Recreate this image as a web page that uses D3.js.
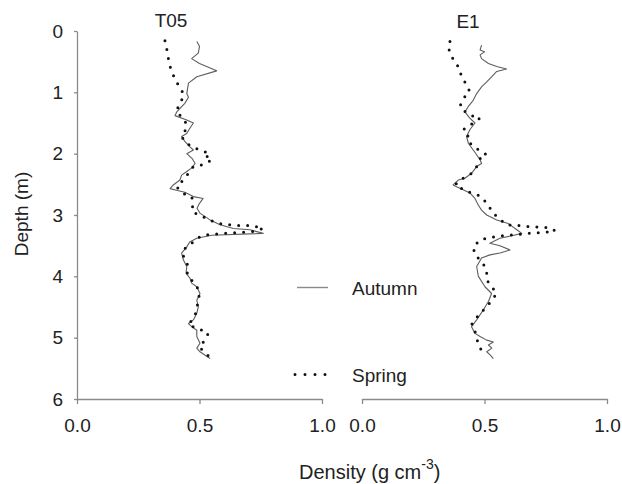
<!DOCTYPE html>
<html>
<head>
<meta charset="utf-8">
<script src="https://cdn.jsdelivr.net/npm/d3@7"></script>
<style>
  body { margin: 0; background: #fff; }
  svg { display: block; font-family: Arial, "Liberation Sans", sans-serif; }
</style>
</head>
<body>
<svg id="chart" width="622" height="484"></svg>
<script>
// ---- data ----
const depthTicks = [0, 1, 2, 3, 4, 5, 6];
const densityTicks = [0.0, 0.5, 1.0];
const panels = ["T05", "E1"];
const seriesNames = ["Autumn", "Spring"];

const t05AutumnDepth = [0.17,0.25,0.36,0.45,0.53,0.65,0.745,0.85,1.02,1.08,1.18,1.32,1.38,1.45,1.50,1.59,1.67,1.72,1.80,1.89,1.94,2.00,2.08,2.16,2.24,2.29,2.35,2.43,2.51,2.57,2.60,2.63,2.70,2.73,2.81,2.89,2.97,3.08,3.16,3.22,3.24,3.30,3.33,3.38,3.44,3.52,3.62,3.73,3.84,3.95,4.03,4.11,4.17,4.28,4.39,4.50,4.60,4.71,4.77,4.82,4.88,4.98,5.09,5.17,5.23,5.34];
const t05AutumnDensity = [0.489,0.50,0.495,0.468,0.50,0.57,0.489,0.455,0.448,0.455,0.44,0.407,0.40,0.448,0.475,0.46,0.448,0.427,0.44,0.461,0.475,0.448,0.47,0.482,0.466,0.448,0.427,0.42,0.393,0.38,0.41,0.44,0.475,0.515,0.50,0.49,0.502,0.543,0.584,0.638,0.706,0.76,0.55,0.489,0.46,0.448,0.427,0.434,0.448,0.445,0.461,0.468,0.489,0.502,0.489,0.495,0.489,0.475,0.455,0.468,0.489,0.489,0.502,0.489,0.502,0.543];

const t05SpringDepth = [0.16,0.26,0.45,0.58,0.72,0.83,0.93,1.02,1.13,1.29,1.34,1.42,1.53,1.64,1.72,1.80,1.89,1.92,1.97,2.00,2.05,2.10,2.18,2.21,2.32,2.43,2.54,2.60,2.66,2.70,2.81,2.92,2.97,3.00,3.11,3.14,3.17,3.17,3.22,3.27,3.29,3.30,3.33,3.38,3.44,3.52,3.62,3.73,3.84,3.95,4.05,4.17,4.28,4.39,4.50,4.60,4.71,4.79,4.85,4.88,4.93,5.05,5.16,5.26,5.34];
const t05SpringDensity = [0.359,0.365,0.373,0.38,0.393,0.407,0.42,0.435,0.427,0.407,0.41,0.434,0.448,0.44,0.427,0.44,0.468,0.489,0.522,0.543,0.53,0.55,0.515,0.475,0.455,0.434,0.407,0.42,0.44,0.468,0.475,0.468,0.482,0.50,0.557,0.584,0.64,0.71,0.76,0.72,0.64,0.60,0.515,0.49,0.475,0.445,0.43,0.44,0.455,0.45,0.465,0.49,0.50,0.495,0.49,0.485,0.47,0.455,0.49,0.51,0.536,0.52,0.50,0.53,0.543];

const e1AutumnDepth = [0.23,0.31,0.34,0.39,0.45,0.53,0.58,0.62,0.66,0.745,0.83,0.91,1.02,1.13,1.23,1.32,1.42,1.50,1.61,1.72,1.83,1.94,2.10,2.16,2.21,2.32,2.40,2.43,2.51,2.54,2.59,2.64,2.73,2.84,2.92,3.00,3.08,3.14,3.24,3.30,3.33,3.38,3.46,3.50,3.57,3.62,3.65,3.70,3.84,4.00,4.17,4.28,4.41,4.55,4.71,4.82,4.93,4.98,5.04,5.07,5.12,5.17,5.23,5.28,5.34];
const e1AutumnDensity = [0.488,0.482,0.50,0.482,0.488,0.516,0.55,0.59,0.55,0.53,0.509,0.488,0.468,0.454,0.434,0.42,0.44,0.461,0.44,0.427,0.434,0.454,0.482,0.488,0.468,0.447,0.42,0.393,0.372,0.386,0.413,0.44,0.461,0.475,0.488,0.509,0.55,0.597,0.632,0.652,0.62,0.563,0.522,0.563,0.604,0.563,0.522,0.488,0.468,0.475,0.502,0.529,0.516,0.495,0.468,0.447,0.461,0.482,0.509,0.536,0.516,0.53,0.509,0.523,0.536];

const e1SpringDepth = [0.17,0.28,0.39,0.47,0.58,0.745,0.88,0.99,1.07,1.15,1.23,1.29,1.37,1.42,1.50,1.61,1.72,1.80,1.88,1.97,2.02,2.08,2.20,2.32,2.43,2.51,2.60,2.70,2.81,2.89,2.97,3.05,3.16,3.17,3.19,3.20,3.21,3.26,3.28,3.29,3.30,3.32,3.33,3.35,3.38,3.41,3.52,3.65,3.73,3.84,3.95,4.06,4.17,4.28,4.39,4.50,4.60,4.71,4.79,4.90,4.98,5.04,5.15,5.23,5.28];
const e1SpringDensity = [0.359,0.352,0.366,0.372,0.393,0.407,0.427,0.44,0.42,0.407,0.40,0.413,0.44,0.482,0.454,0.413,0.434,0.434,0.454,0.488,0.509,0.482,0.47,0.447,0.40,0.38,0.42,0.488,0.509,0.523,0.536,0.557,0.59,0.645,0.686,0.727,0.768,0.788,0.75,0.71,0.672,0.63,0.59,0.55,0.509,0.482,0.454,0.461,0.482,0.502,0.509,0.509,0.529,0.55,0.529,0.509,0.482,0.461,0.447,0.461,0.468,0.47,0.482,0.488,0.495];

// ---- drawing ----
const svg = d3.select("#chart");
const FS = 19;
const axisColor = "#8a8a8a";
const textColor = "#222";

const y = d3.scaleLinear().domain([0, 6]).range([31, 399]);
const xL = d3.scaleLinear().domain([0, 1]).range([77, 322]);
const xR = d3.scaleLinear().domain([0, 1]).range([362, 607]);

function styleAxis(g) {
  g.selectAll("path.domain").attr("stroke", axisColor).attr("stroke-width", 1.3);
  g.selectAll(".tick line").attr("stroke", axisColor).attr("stroke-width", 1.3);
  g.selectAll(".tick text").attr("fill", textColor).attr("font-size", FS)
    .attr("font-family", "Arial, 'Liberation Sans', sans-serif");
}

// y axis (left panel only)
svg.append("g")
  .attr("transform", "translate(" + xL.range()[0] + ",0)")
  .call(d3.axisLeft(y).tickValues(depthTicks).tickFormat(d3.format("d")).tickSize(3).tickSizeOuter(0).tickPadding(11))
  .call(styleAxis);

// x axes
[xL, xR].forEach(x => {
  svg.append("g")
    .attr("transform", "translate(0," + y.range()[1] + ")")
    .call(d3.axisBottom(x).tickValues(densityTicks).tickFormat(d3.format(".1f")).tickSize(5).tickSizeOuter(0).tickPadding(15))
    .call(styleAxis);
});

// series
function drawSeries(x, depth, dens, dotted) {
  const pts = depth.map((d, i) => [dens[i], d]);
  const line = d3.line().x(p => x(p[0])).y(p => y(p[1]));
  const p = svg.append("path").datum(pts).attr("d", line).attr("fill", "none");
  if (dotted) {
    p.attr("stroke", "#111").attr("stroke-width", 3).attr("stroke-linecap", "round")
     .attr("stroke-dasharray", "0,9");
  } else {
    p.attr("stroke", "#5e5e5e").attr("stroke-width", 1.1).attr("stroke-linejoin", "round");
  }
}
drawSeries(xL, t05AutumnDepth, t05AutumnDensity, false);
drawSeries(xL, t05SpringDepth, t05SpringDensity, true);
drawSeries(xR, e1AutumnDepth, e1AutumnDensity, false);
drawSeries(xR, e1SpringDepth, e1SpringDensity, true);

// panel titles
svg.append("text").attr("x", 171).attr("y", 27).attr("text-anchor", "middle")
  .attr("font-size", FS).attr("fill", textColor).text(panels[0]);
svg.append("text").attr("x", 468).attr("y", 28).attr("text-anchor", "middle")
  .attr("font-size", FS).attr("fill", textColor).text(panels[1]);

// legend
svg.append("line").attr("x1", 297).attr("x2", 328).attr("y1", 287.5).attr("y2", 287.5)
  .attr("stroke", "#8a8a8a").attr("stroke-width", 1.4);
svg.append("text").attr("x", 352).attr("y", 295).attr("font-size", FS).attr("fill", textColor).text(seriesNames[0]);
svg.append("line").attr("x1", 295).attr("x2", 326).attr("y1", 374.5).attr("y2", 374.5)
  .attr("stroke", "#111").attr("stroke-width", 3).attr("stroke-linecap", "round").attr("stroke-dasharray", "0,10");
svg.append("text").attr("x", 352).attr("y", 382).attr("font-size", FS).attr("fill", textColor).text(seriesNames[1]);

// axis titles
svg.append("text").attr("transform", "translate(28,214) rotate(-90)").attr("text-anchor", "middle")
  .attr("font-size", FS).attr("fill", textColor).text("Depth (m)");
const xt = svg.append("text").attr("x", 299).attr("y", 479).attr("font-size", 20).attr("fill", textColor);
xt.append("tspan").text("Density (g cm");
xt.append("tspan").attr("font-size", 14).attr("dy", -10).text("-3");
xt.append("tspan").attr("dy", 10).text(")");
</script>
</body>
</html>
